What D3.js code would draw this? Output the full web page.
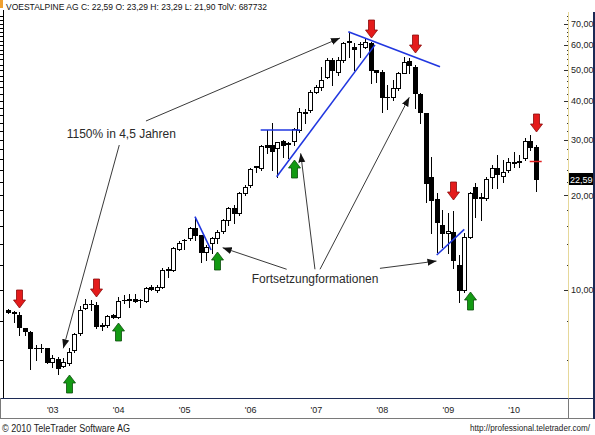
<!DOCTYPE html>
<html><head><meta charset="utf-8">
<script src="https://cdn.jsdelivr.net/npm/d3@7"></script>
<style>
body{margin:0;background:#fff}
svg{display:block;font-family:Arial,"Liberation Sans",sans-serif}
</style>
</head><body>
<svg id="c" width="595" height="435"></svg>
<script>
// ---------- DATA (monthly candles May 2002 – May 2010) ----------
const months = d3.timeMonth.range(new Date(2002,4,1), new Date(2010,5,1));
const open  = [8.64,8.53,8.33,7.57,7.36,6.55,6.53,6.54,5.92,6.02,5.75,5.85,6.45,7.29,8.75,9.01,8.96,7.72,7.74,8.33,8.23,9.28,9.33,9.36,9.28,9.23,10.24,10.00,10.24,11.62,11.58,13.47,14.40,14.60,15.70,14.95,13.23,14.13,14.60,15.43,16.69,18.18,17.53,20.29,21.56,24.60,24.36,28.88,28.88,28.20,29.81,29.20,29.81,32.23,36.70,37.31,42.66,44.25,47.61,53.79,49.38,53.79,61.20,59.00,60.30,59.29,60.78,50.00,49.38,41.10,41.12,43.73,49.02,53.51,51.22,41.95,36.42,22.91,19.50,16.09,15.20,15.32,12.01,10.00,14.77,21.20,19.60,19.56,22.94,24.36,22.97,24.06,25.30,25.65,26.21,29.81,28.53];
const high  = [8.70,8.58,8.53,7.59,7.41,6.69,6.72,6.55,6.22,6.14,6.07,6.53,7.29,8.90,9.34,9.29,9.18,7.87,8.33,8.39,9.52,9.64,9.69,9.69,9.36,10.24,10.37,10.37,11.72,11.81,13.73,14.34,14.55,15.89,17.10,14.95,13.90,14.77,15.51,16.77,18.39,18.62,20.53,21.56,24.36,24.83,28.88,32.23,33.85,29.59,29.96,29.59,32.64,37.78,37.51,43.19,44.80,51.22,54.46,54.46,55.11,61.50,66.17,60.92,61.50,63.05,61.50,50.10,50.00,44.80,46.47,49.38,55.11,54.46,51.86,42.16,36.42,26.51,20.29,17.95,17.63,17.82,12.92,15.14,20.53,21.92,20.29,22.91,24.95,26.85,25.88,26.21,27.50,26.85,30.34,31.08,28.88];
const low   = [8.45,7.93,7.20,7.20,5.61,5.99,6.37,5.85,5.71,5.41,5.71,5.78,6.37,7.20,8.68,8.64,7.56,7.46,7.65,8.15,8.13,9.07,8.85,9.18,8.85,9.18,10.00,9.85,10.12,11.02,11.52,13.40,13.47,14.42,14.42,12.30,12.45,13.14,14.13,15.14,16.09,16.29,17.31,20.04,21.29,23.76,24.06,27.18,24.06,22.91,26.51,26.21,28.88,31.84,33.85,36.85,42.35,43.19,47.05,44.80,48.21,53.12,55.11,50.00,55.11,58.60,45.36,45.90,36.85,37.50,40.14,43.19,48.80,48.80,37.78,33.85,19.08,15.23,13.16,13.65,13.08,11.72,9.18,9.88,14.60,17.10,16.69,19.32,21.04,21.04,22.08,23.76,24.65,24.65,25.88,27.85,20.68];
const close = [8.51,8.43,7.65,7.41,6.54,6.53,6.55,5.92,6.07,5.66,5.89,6.37,7.23,8.64,9.03,9.04,7.70,7.69,8.27,8.19,9.23,9.30,9.35,9.23,9.30,10.17,10.07,10.24,11.58,11.66,13.57,14.13,14.44,15.70,14.95,13.23,13.73,14.60,15.32,16.69,18.18,17.53,20.29,21.29,24.18,24.70,28.67,28.53,27.64,29.46,28.88,29.30,32.40,36.85,36.40,42.66,44.25,46.47,53.79,50.00,53.79,61.05,61.70,58.50,60.60,61.50,50.00,49.27,41.12,40.90,43.73,48.80,53.12,51.86,42.16,36.85,21.83,19.25,16.48,15.14,15.35,12.45,10.00,14.70,20.29,19.56,19.70,22.47,24.36,23.42,23.66,25.56,25.45,25.55,29.85,28.40,22.59];

const yearLabels = ["'03","'04","'05","'06","'07","'08","'09","'10"];
const majorTicks = [10,20,30,40,50,60,70];
const minorTicks = [6,8,12,14,16,18,22,24,26,28,32,34,36,38,42,44,46,48,52,54,56,58,62,64,66,68,72,74];
const leftTicks  = [6,8,10,12,14,16,18,20,22,24,26,28,30,32,34,36,38,40,42,44,46,48,50,52,54,56,58,60,62,64,66,68,70,72,74];
const yDomain = [4.54, 75.86];

// signals: month index + price at arrow tip
const sellIdx = [2,16,66,74,81,96];
const sellTip = [8.75,9.52,63.05,56.48,19.32,31.84];
const buyIdx  = [11,20,38,52,84];
const buyTip  = [5.37,7.86,13.23,25.88,9.88];

// pattern lines [idx1, price1, idx2, price2]
const patternLines = [
  [33.98,17.10,36.90,13.40],
  [45.94,32.23,53.09,32.23],
  [48.85,22.91,66.74,60.08],
  [61.89,66.17,78.58,51.22],
  [77.98,12.92,83.00,15.59]
];
// annotation pointers [idxFrom, priceFrom, idxTo, priceTo]
const pointers = [
  [25.06,34.43,60.37,63.18],
  [20.20,28.88,10.01,6.53],
  [50.67,11.64,39.02,13.63],
  [55.82,11.64,53.22,27.18],
  [56.74,11.64,72.99,40.95],
  [67.65,11.72,77.94,12.36]
];
const notes = [
  {text:"1150% in 4,5 Jahren", i:10.63, p:30.45},
  {text:"Fortsetzungformationen", i:44.3, p:10.49}
];
const lastMark = 25.70;
const lastClose = 22.59;
const title = "VOESTALPINE AG C: 22,59 O: 23,29 H: 23,29 L: 21,90 TolV: 687732";

// ---------- LAYOUT ----------
const P = {l:3, r:568, t:13, b:398};
const svg = d3.select('#c');
const x = d3.scaleLinear().domain([0, months.length-1]).range([8.3, 535.7]);
const y = d3.scaleLog().domain(yDomain).range([P.b, P.t]);
const fmt = v => d3.format(".2f")(v).replace('.', ',');

svg.append('rect').attr('width',595).attr('height',435).attr('fill','#fff');

// frame
svg.append('rect').attr('x',0).attr('y',0).attr('width',3).attr('height',8).attr('fill','#f0a030');
const frame = svg.append('g').attr('shape-rendering','crispEdges');
frame.append('line').attr('x1',P.l+0.5).attr('x2',P.l+0.5).attr('y1',10).attr('y2',P.b).attr('stroke','#000');
frame.append('line').attr('x1',P.r+0.5).attr('x2',P.r+0.5).attr('y1',12).attr('y2',P.b).attr('stroke','#e6d89a');
frame.append('line').attr('x1',0).attr('x2',594).attr('y1',P.b+0.5).attr('y2',P.b+0.5).attr('stroke','#1c2a55');
frame.append('line').attr('x1',0).attr('x2',594).attr('y1',418.5).attr('y2',418.5).attr('stroke','#7a7a7a');
frame.append('line').attr('x1',P.r+0.5).attr('x2',P.r+0.5).attr('y1',P.b).attr('y2',418).attr('stroke','#7a7a7a');
frame.append('line').attr('x1',593.5).attr('x2',593.5).attr('y1',12).attr('y2',419).attr('stroke','#1c2a55').attr('stroke-width',2);
frame.append('line').attr('x1',0.5).attr('x2',0.5).attr('y1',P.b).attr('y2',419).attr('stroke','#7a7a7a');

// left axis ticks
const la = svg.append('g').attr('transform',`translate(${P.l},0)`)
  .call(d3.axisLeft(y).tickValues(leftTicks).tickSize(3).tickFormat(''));
la.select('.domain').remove();
la.selectAll('line').attr('stroke','#000').attr('shape-rendering','crispEdges');

// right axis: minor + major ticks, labels
const rm = svg.append('g').attr('transform',`translate(${P.r},0)`)
  .call(d3.axisLeft(y).tickValues(minorTicks).tickSize(1).tickFormat(''));
rm.select('.domain').remove();
rm.selectAll('line').attr('stroke','#333').attr('shape-rendering','crispEdges');
const rM = svg.append('g').attr('transform',`translate(${P.r},0)`)
  .call(d3.axisLeft(y).tickValues(majorTicks).tickSize(4).tickFormat(''));
rM.select('.domain').remove();
rM.selectAll('line').attr('stroke','#333').attr('shape-rendering','crispEdges');
const rl = svg.append('g').attr('transform',`translate(${P.r},0)`)
  .call(d3.axisRight(y).tickValues(majorTicks).tickSize(0).tickPadding(3).tickFormat(fmt));
rl.select('.domain').remove();
rl.selectAll('text').attr('font-size',9).attr('fill','#222').attr('font-family','Arial');

// x axis
const janIdx = months.map((m,i)=>m.getMonth()===0?i:-1).filter(i=>i>=0);
const xa = svg.append('g').attr('transform',`translate(0,${P.b})`)
  .call(d3.axisBottom(x).tickValues(janIdx).tickSize(0).tickPadding(9).tickFormat((d,k)=>yearLabels[k]));
xa.select('.domain').remove();
xa.selectAll('text').attr('font-size',9).attr('fill','#222').attr('font-family','Arial');

// candles
const data = months.map((m,i)=>({i, o:open[i], h:high[i], l:low[i], c:close[i]}));
const cx = d => Math.round(x(d.i)) + 0.5;
const cg = svg.append('g').attr('shape-rendering','crispEdges');
cg.selectAll('line.wick').data(data).join('line').attr('class','wick')
  .attr('x1',cx).attr('x2',cx)
  .attr('y1',d=>Math.round(y(d.h))).attr('y2',d=>Math.round(y(d.l))+1)
  .attr('stroke','#000');
const bodyTop = d => Math.round(y(Math.max(d.o,d.c)));
const bodyBot = d => Math.round(y(Math.min(d.o,d.c)));
const big = data.filter(d => bodyBot(d)-bodyTop(d) >= 2);
const flat = data.filter(d => bodyBot(d)-bodyTop(d) < 2);
cg.selectAll('rect.body').data(big).join('rect').attr('class','body')
  .attr('x',d=>cx(d)-2).attr('width',4)
  .attr('y',d=>bodyTop(d)+0.5).attr('height',d=>bodyBot(d)-bodyTop(d))
  .attr('fill',d=>d.c>=d.o?'#fff':'#000').attr('stroke','#000');
cg.selectAll('line.doji').data(flat).join('line').attr('class','doji')
  .attr('x1',d=>cx(d)-2.5).attr('x2',d=>cx(d)+2.5)
  .attr('y1',d=>bodyTop(d)+0.5).attr('y2',d=>bodyTop(d)+0.5)
  .attr('stroke','#000').attr('stroke-width',d=>bodyBot(d)-bodyTop(d)>=1?2:1);

// last-price red dash
svg.append('line').attr('x1',x(96)-6).attr('x2',x(96)+6)
  .attr('y1',Math.round(y(lastMark))+0.5).attr('y2',Math.round(y(lastMark))+0.5)
  .attr('stroke','#e02020').attr('stroke-width',1.5);

// pattern lines (blue)
svg.append('g').selectAll('line').data(patternLines).join('line')
  .attr('x1',d=>x(d[0])).attr('y1',d=>y(d[1])).attr('x2',d=>x(d[2])).attr('y2',d=>y(d[3]))
  .attr('stroke','#2137e0').attr('stroke-width',1.6);

// annotation pointers
const defs = svg.append('defs');
defs.append('marker').attr('id','ah').attr('markerUnits','userSpaceOnUse')
  .attr('markerWidth',10).attr('markerHeight',8).attr('refX',9).attr('refY',4).attr('orient','auto')
  .append('path').attr('d','M0,0.5 L9,4 L0,7.5 Z').attr('fill','#111');
svg.append('g').selectAll('line').data(pointers).join('line')
  .attr('x1',d=>x(d[0])).attr('y1',d=>y(d[1])).attr('x2',d=>x(d[2])).attr('y2',d=>y(d[3]))
  .attr('stroke','#222').attr('stroke-width',0.9).attr('marker-end','url(#ah)');

// notes
svg.append('g').selectAll('text').data(notes).join('text')
  .attr('x',d=>x(d.i)).attr('y',d=>y(d.p)).text(d=>d.text)
  .attr('font-size',12).attr('fill','#2a2a2a').attr('font-family','Arial');

// signal arrows
const downPath = 'M-3,-18 L3,-18 L3,-8 L6,-8 L0,0 L-6,-8 L-3,-8 Z';
const upPath = 'M-3,18 L3,18 L3,8 L6,8 L0,0 L-6,8 L-3,8 Z';
svg.append('g').selectAll('path').data(sellIdx).join('path')
  .attr('transform',(d,k)=>`translate(${Math.round(x(d))+0.5},${Math.round(y(sellTip[k]))})`)
  .attr('d',downPath).attr('fill','#e41b1b').attr('stroke','#8a0a0a').attr('stroke-width',0.8);
svg.append('g').selectAll('path').data(buyIdx).join('path')
  .attr('transform',(d,k)=>`translate(${Math.round(x(d))+0.5},${Math.round(y(buyTip[k]))})`)
  .attr('d',upPath).attr('fill','#139a13').attr('stroke','#0b4d0b').attr('stroke-width',0.8);

// current price tag
const ly = y(lastClose);
svg.append('rect').attr('x',P.r+1).attr('y',Math.round(ly)-6).attr('width',24).attr('height',12).attr('fill','#000');
svg.append('text').attr('x',P.r+2).attr('y',Math.round(ly)+3.5).text(fmt(lastClose))
  .attr('font-size',9).attr('fill','#fff');

// title & footer
svg.append('text').attr('x',6).attr('y',10).text(title)
  .attr('font-size',9.5).attr('fill','#111').attr('textLength',261).attr('lengthAdjust','spacingAndGlyphs');
svg.append('text').attr('x',2).attr('y',432).text('© 2010 TeleTrader Software AG')
  .attr('font-size',10).attr('fill','#222').attr('textLength',128).attr('lengthAdjust','spacingAndGlyphs');
svg.append('text').attr('x',470).attr('y',431).text('http://professional.teletrader.com/')
  .attr('font-size',8.5).attr('fill','#222').attr('textLength',120).attr('lengthAdjust','spacingAndGlyphs');
</script>
</body></html>
